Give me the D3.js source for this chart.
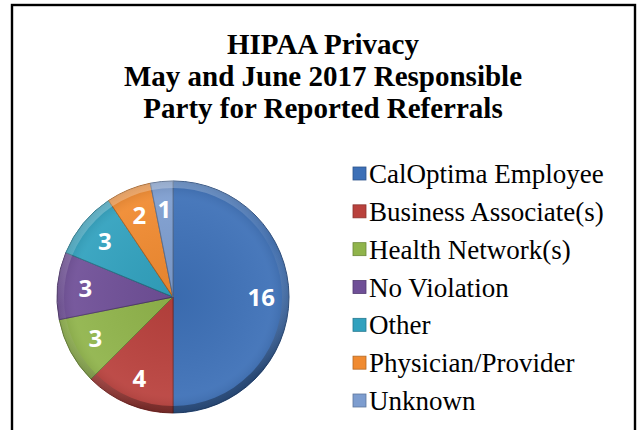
<!DOCTYPE html>
<html><head><meta charset="utf-8">
<script src="https://cdn.jsdelivr.net/npm/d3@7"></script>
<style>html,body{margin:0;padding:0;background:#fff;}svg{display:block;}
.serif{font-family:"Liberation Serif","Times New Roman",Times,"DejaVu Serif",serif;}
.sans{font-family:"Open Sans","Liberation Sans",Arial,sans-serif;}
</style>
</head><body>
<svg id="c" width="642" height="430"></svg>
<script>
const categories = ["CalOptima Employee","Business Associate(s)","Health Network(s)","No Violation","Other","Physician/Provider","Unknown"];
const values = [16,4,3,3,3,2,1];
const colors = ["#3d70b7","#b9413d","#90b44b","#6f4f97","#31a1be","#f08a30","#7d9dcf"];
const titleLines = ["HIPAA Privacy","May and June 2017 Responsible","Party for Reported Referrals"];

const svg = d3.select("#c");
svg.append("rect").attr("x",12).attr("y",5).attr("width",623).attr("height",440)
  .attr("fill","#fff").attr("stroke","#000").attr("stroke-width",2.4);

svg.append("text").attr("class","serif").attr("x",323).attr("y",54).attr("text-anchor","middle")
  .attr("font-weight","bold").attr("font-size",29).attr("fill","#000")
  .selectAll("tspan").data(titleLines).join("tspan")
  .attr("x",323).attr("dy",(d,i)=>i===0?0:32).text(d=>d);

const cx=173, cy=297, r=116;
const defs = svg.append("defs");
const rimGrad = defs.append("linearGradient").attr("id","rim").attr("x1",0).attr("y1",0).attr("x2",0.3).attr("y2",1);
rimGrad.append("stop").attr("offset","0%").attr("stop-color","#fff").attr("stop-opacity",0.35);
rimGrad.append("stop").attr("offset","50%").attr("stop-color","#fff").attr("stop-opacity",0.05);
rimGrad.append("stop").attr("offset","100%").attr("stop-color","#000").attr("stop-opacity",0.3);
const shade = defs.append("radialGradient").attr("id","shade").attr("cx","50%").attr("cy","50%").attr("r","50%");
shade.append("stop").attr("offset","0%").attr("stop-color","#000").attr("stop-opacity",0.05);
shade.append("stop").attr("offset","85%").attr("stop-color","#fff").attr("stop-opacity",0.06);
shade.append("stop").attr("offset","100%").attr("stop-color","#000").attr("stop-opacity",0.12);

const pie = d3.pie().sort(null).value(d=>d.v);
const data = categories.map((c,i)=>({c, v:values[i], col:colors[i]}));
const arcs = pie(data);
const arc = d3.arc().innerRadius(0).outerRadius(r);
const labelArc = d3.arc().innerRadius(r*0.76).outerRadius(r*0.76);
const g = svg.append("g").attr("transform",`translate(${cx},${cy})`);
g.selectAll("path.s").data(arcs).join("path").attr("class","s")
  .attr("d",arc).attr("fill",d=>d.data.col)
  .attr("stroke",d=>d3.color(d.data.col).darker(1)).attr("stroke-width",1);
g.append("circle").attr("r",r).attr("fill","url(#shade)");
g.append("path").attr("d",d3.arc().innerRadius(r-7).outerRadius(r)({startAngle:0,endAngle:2*Math.PI}))
  .attr("fill","url(#rim)");
g.selectAll("text.l").data(arcs).join("text").attr("class","l sans")
  .attr("transform",d=>`translate(${labelArc.centroid(d)})`)
  .attr("text-anchor","middle").attr("dy","0.36em")
  .attr("font-weight","bold").attr("font-size",24).attr("fill","#fff").text(d=>d.data.v);

const lg = svg.append("g");
const rowY = d3.scaleLinear().domain([0,6]).range([174,401]);
const items = lg.selectAll("g").data(data).join("g").attr("transform",(d,i)=>`translate(353,${rowY(i)})`);
items.append("rect").attr("x",0).attr("y",-7).attr("width",13).attr("height",13)
  .attr("fill",d=>d.col).attr("stroke",d=>d3.color(d.col).darker(0.8)).attr("stroke-width",0.8);
items.append("text").attr("class","serif").attr("x",16).attr("y",9)
  .attr("font-size",27).attr("fill","#000").text(d=>d.c);
</script>
</body></html>
